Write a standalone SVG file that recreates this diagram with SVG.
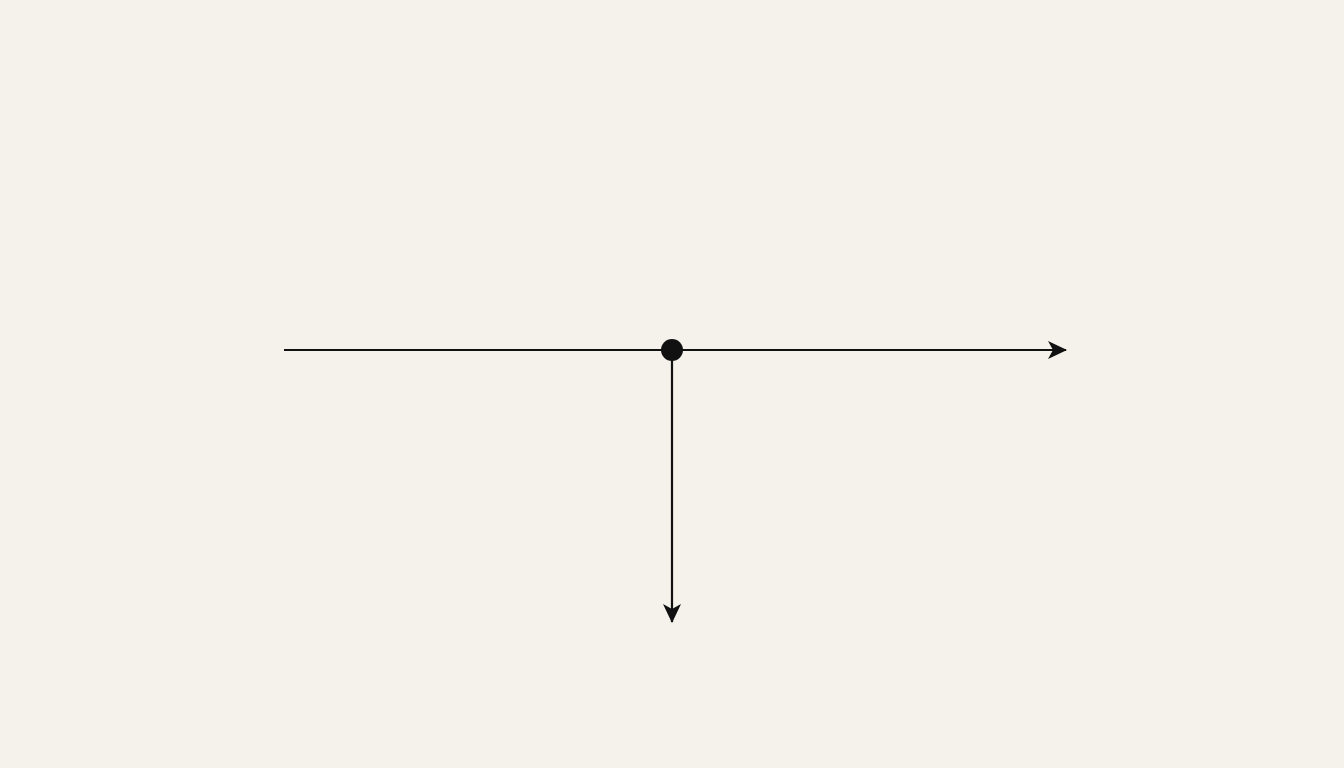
<svg xmlns="http://www.w3.org/2000/svg" width="1344" height="768" viewBox="0 0 1344 768">
<defs>
<style>
.line{stroke:#111;stroke-width:2.2;fill:none}
</style>
<marker id="arrow" viewBox="0 0 20 18" refX="18" refY="9" markerWidth="20" markerHeight="18" markerUnits="userSpaceOnUse" orient="auto">
<path d="M0,0 L19,9 L0,18 L5,9 Z" fill="#111"/>
</marker>
</defs>
<rect width="1344" height="768" fill="#f4f2ea"/>
<g id="connectors">
<line class="line" x1="284" y1="350" x2="1066" y2="350" marker-end="url(#arrow)"/>
<line class="line" x1="672" y1="350" x2="672" y2="622" marker-end="url(#arrow)"/>
</g>
<g id="junction">
<circle cx="672" cy="350" r="11" fill="#111"/>
</g>
</svg>
